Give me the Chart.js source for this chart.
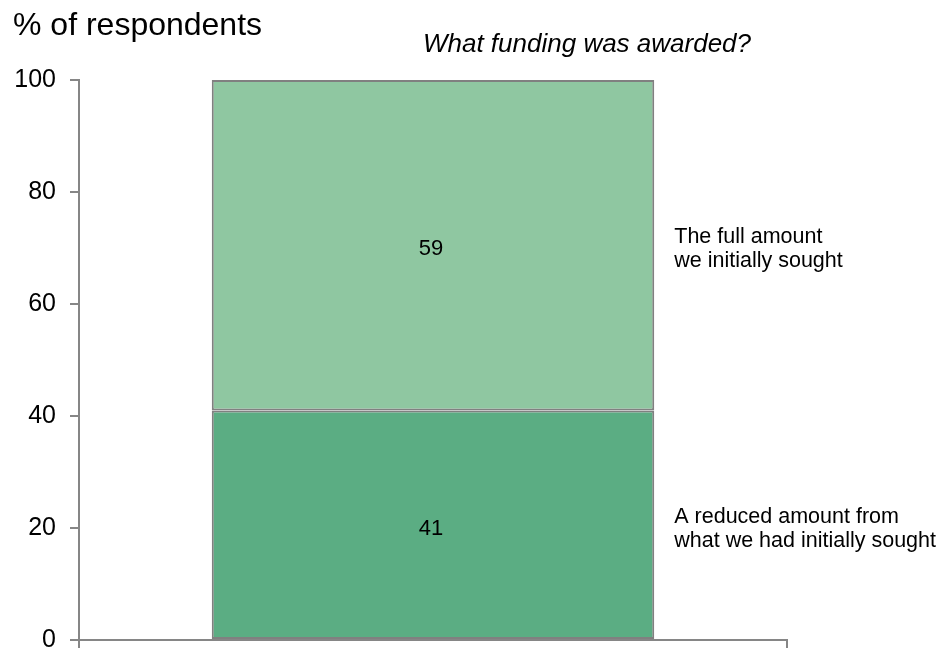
<!DOCTYPE html>
<html>
<head>
<meta charset="utf-8">
<script src="https://cdn.jsdelivr.net/npm/chart.js@4"></script>
<style>
html,body{margin:0;padding:0;background:#fff;}
#wrap{width:937px;height:650px;position:relative;}
</style>
</head>
<body>
<div id="wrap"><canvas id="c" width="937" height="650"></canvas></div>
<script>
const categories = [''];
const reducedValues = [41];
const fullValues = [59];
const seriesNames = ['A reduced amount from\nwhat we had initially sought', 'The full amount\nwe initially sought'];
const yTicks = [0, 20, 40, 60, 80, 100];
const titleText = '% of respondents';
const subtitleText = 'What funding was awarded?';

const FONT = '"Liberation Sans", Arial, sans-serif';

const textPlugin = {
  id: 'texts',
  afterDatasetsDraw(chart) {
    const ctx = chart.ctx;
    ctx.save();
    ctx.fillStyle = '#000';
    ctx.font = '32px ' + FONT;
    ctx.textAlign = 'left';
    ctx.textBaseline = 'alphabetic';
    ctx.fillText(titleText, 13, 35);
    ctx.font = 'italic 26px ' + FONT;
    ctx.textAlign = 'center';
    ctx.fillText(subtitleText, 587, 52);
    chart.data.datasets.forEach((ds, di) => {
      const meta = chart.getDatasetMeta(di);
      meta.data.forEach((bar, i) => {
        const p = bar.getProps(['x', 'y', 'base', 'width'], true);
        const cy = (p.y + p.base) / 2;
        ctx.font = '22px ' + FONT;
        ctx.textAlign = 'center';
        ctx.textBaseline = 'middle';
        ctx.fillText(String(ds.data[i]), p.x - 2, cy + 4);
        const lines = ds.label.split('\n');
        ctx.font = '21.5px ' + FONT;
        ctx.textAlign = 'left';
        const x0 = p.x + p.width / 2 + 20;
        lines.forEach((ln, k) => {
          ctx.fillText(ln, x0, cy - 12 * (lines.length - 1) + k * 24 + 4);
        });
      });
    });
    ctx.restore();
  }
};

new Chart(document.getElementById('c'), {
  type: 'bar',
  data: {
    labels: categories,
    datasets: [
      { label: seriesNames[0], data: reducedValues, backgroundColor: '#5bad83', borderColor: '#808080', borderWidth: 2, borderSkipped: false, barPercentage: 0.625, categoryPercentage: 1 },
      { label: seriesNames[1], data: fullValues, backgroundColor: '#8fc7a1', borderColor: '#808080', borderWidth: 2, borderSkipped: false, barPercentage: 0.625, categoryPercentage: 1 }
    ]
  },
  options: {
    responsive: false,
    animation: false,
    devicePixelRatio: 1,
    layout: { padding: { left: 0, right: 150, top: 80, bottom: 0 } },
    plugins: { legend: { display: false }, tooltip: { enabled: false } },
    scales: {
      x: {
        stacked: true,
        offset: true,
        border: { display: true, color: '#868686', width: 2 },
        grid: { display: true, drawOnChartArea: false, drawTicks: true, tickLength: 8, color: '#868686', lineWidth: 2, offset: true },
        ticks: { callback: () => '', font: { size: 1 } },
        afterFit(s) { s.height = 10; s.paddingLeft = 0; s.paddingRight = 0; }
      },
      y: {
        stacked: true,
        min: 0, max: 100,
        afterBuildTicks(s) { s.ticks = yTicks.map(v => ({ value: v })); },
        border: { display: true, color: '#868686', width: 2 },
        grid: { display: true, drawOnChartArea: false, drawTicks: true, tickLength: 9, color: '#868686', lineWidth: 2 },
        ticks: { color: '#000', font: { size: 25, family: FONT }, padding: 14 },
        afterFit(s) { s.width = 79; s.paddingTop = 0; s.paddingBottom = 0; }
      }
    }
  },
  plugins: [textPlugin]
});
</script>
</body>
</html>
